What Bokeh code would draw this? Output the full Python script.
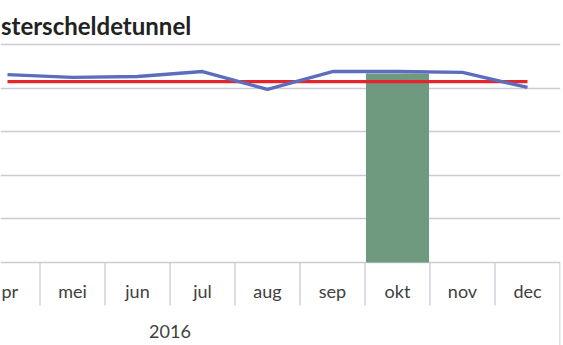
from bokeh.plotting import figure
from bokeh.models import Range1d, Grid, FixedTicker
from bokeh.core.properties import value
from bokeh.embed import file_html
from bokeh.resources import INLINE

# data
months = ["apr", "mei", "jun", "jul", "aug", "sep", "okt", "nov", "dec"]
# tick labels as visible in the (left-cropped) reference
tick_labels = ["pr", "mei", "jun", "jul", "aug", "sep", "okt", "nov", "dec"]
year_label = "2016"
title_text = "sterscheldetunnel"
series_blue = [86.2, 84.9, 85.3, 87.6, 79.4, 87.6, 87.6, 87.2, 80.3]
series_red = [83.0, 83.0, 83.0, 83.0, 83.0, 83.0, 83.0, 83.0, 83.0]
bar_month = ["okt"]
bar_value = [86.7]
grid_ticks = [0, 20, 40, 60, 80, 100]

idx = list(range(len(months)))
px_per_unit = 2.18  # vertical pixels per data unit
x_px = 65.0         # pixels per category

W, H = 563, 345
frame_w = 560
p = figure(width=W, height=H, output_backend="svg", toolbar_location=None,
           x_axis_location=None, y_axis_location=None,
           min_border_left=0, min_border_right=W - frame_w,
           min_border_top=0, min_border_bottom=0)
p.outline_line_color = None
p.background_fill_color = "white"
p.border_fill_color = "white"
p.xgrid.visible = False
p.ygrid.visible = False

x0 = -7.0 / x_px
p.x_range = Range1d(x0, x0 + frame_w / x_px)
base_px = 262.0
p.y_range = Range1d(-(H - base_px) / px_per_unit, base_px / px_per_unit)
d = 1.0 / px_per_unit

p.add_layout(Grid(dimension=1, ticker=FixedTicker(ticks=grid_ticks),
                  grid_line_color="#c9ccd4", grid_line_width=1.3))

# bar
bx = [months.index(m) for m in bar_month]
p.vbar(x=bx, top=bar_value, bottom=0, width=0.97, fill_color="#6f9a80",
       line_color=None)

# lines
p.line(idx, series_red, line_color="#e4262c", line_width=3.2)
p.line(idx, series_blue, line_color="#5c6dbd", line_width=3.4)

# category separators
sep_x = [i + 0.5 for i in idx[:-1]]
p.segment(x0=sep_x, x1=sep_x, y0=[0] * len(sep_x), y1=[-43 * d] * len(sep_x),
          line_color="#c9ccd4", line_width=1.3)
last = idx[-1] + 0.5
p.segment(x0=[last], x1=[last], y0=[0], y1=[-(H - base_px) * d],
          line_color="#c9ccd4", line_width=1.3)

# month labels (first one is cut at the left edge in the reference)
lab_y = -(290 - base_px) * d
p.text(x=idx[1:], y=[lab_y] * (len(idx) - 1), text=tick_labels[1:],
       text_align="center", text_baseline="alphabetic", text_font=value("Lato"),
       text_font_size="18px", text_color="#404040")
p.text(x=[x0 + 1 / x_px], y=[lab_y], text=tick_labels[:1],
       text_align="left", text_baseline="alphabetic", text_font=value("Lato"),
       text_font_size="18px", text_color="#404040")
# year label (centred on the whole year: between jun and jul)
p.text(x=[months.index("jun") + 0.5], y=[-(331 - base_px) * d], text=[year_label],
       text_align="center", text_baseline="alphabetic", text_font=value("Lato"),
       text_font_size="18px", text_color="#404040")

# title (left part cropped as in the reference)
p.text(x=[x0 + 0.5 / x_px], y=[(base_px - 25) * d], text=[title_text],
       text_align="left", text_baseline="alphabetic", text_font=value("Lato"),
       text_font_style="bold", text_font_size="24px", text_color="#222222")

html = file_html(p, INLINE)
html = html.replace("<head>", "<head><style>html,body{margin:0;padding:0;overflow:hidden}</style>", 1)
open("out.html", "w").write(html)
